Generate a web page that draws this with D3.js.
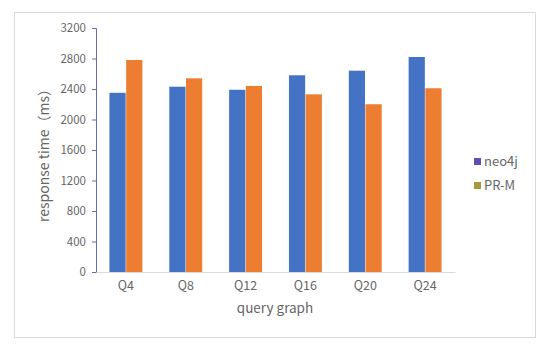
<!DOCTYPE html>
<html>
<head>
<meta charset="utf-8">
<script src="https://cdn.jsdelivr.net/npm/d3@7"></script>
<style>
  body { margin: 0; background: #fff; }
  svg text { font-family: "Noto Sans CJK SC", "DejaVu Sans", sans-serif; fill: #666; }
</style>
</head>
<body>
<svg id="chart" width="550" height="350"></svg>
<script>
const categories = ['Q4', 'Q8', 'Q12', 'Q16', 'Q20', 'Q24'];
const seriesNames = ['neo4j', 'PR-M'];
const neo4jValues = [2350, 2430, 2390, 2580, 2640, 2820];
const prmValues = [2780, 2540, 2440, 2330, 2200, 2410];
const yTicks = [0, 400, 800, 1200, 1600, 2000, 2400, 2800, 3200];

const colors = ['#4472C4', '#ED7D31'];
const legendColors = ['#5a4fb5', '#a69a3a'];

const svg = d3.select('#chart');
const margin = {top: 28, left: 96, right: 95, bottom: 78};
const width = 550 - margin.left - margin.right,
  height = 350 - margin.top - margin.bottom;

// frame
svg.append('rect')
  .attr('x', 14.5).attr('y', 12.5)
  .attr('width', 521).attr('height', 325)
  .attr('fill', 'none').attr('stroke', '#d9d9d9');

const g = svg.append('g')
  .attr('transform', 'translate(' + margin.left + ',' + margin.top + ')');

const x = d3.scaleBand().domain(categories).range([0, width]);
const x1 = d3.scaleBand().domain(seriesNames).range([0, x.bandwidth() * 0.55])
  .paddingInner(0.03);
const y = d3.scaleLinear().domain([0, 3200]).range([height, 0]);

const rows = categories.map((c, i) => ({cat: c, vals: [neo4jValues[i], prmValues[i]]}));

g.selectAll('.grp')
  .data(rows)
  .enter().append('g')
    .attr('class', 'grp')
    .attr('transform', d => 'translate(' + (x(d.cat) + x.bandwidth() * 0.225) + ',0)')
  .selectAll('rect')
  .data(d => d.vals.map((v, j) => ({name: seriesNames[j], value: v, j: j})))
  .enter().append('rect')
    .attr('x', d => x1(d.name))
    .attr('y', d => y(d.value))
    .attr('width', x1.bandwidth())
    .attr('height', d => height - y(d.value))
    .attr('fill', d => colors[d.j]);

// y axis
const yAxis = g.append('g')
  .call(d3.axisLeft(y).tickValues(yTicks).tickSize(4).tickFormat(d3.format('d')));
yAxis.select('.domain').attr('stroke', '#6b6aa8');
yAxis.selectAll('.tick line').attr('stroke', '#6b6aa8');
yAxis.selectAll('.tick text').attr('x', -10).style('font-size', '11.5px').attr('fill', '#666');

// x axis
const xAxis = g.append('g')
  .attr('transform', 'translate(0,' + height + ')')
  .call(d3.axisBottom(x).tickSize(0));
xAxis.select('.domain').attr('stroke', '#d9d9d9');
xAxis.selectAll('.tick text').attr('dy', '1.2em').style('font-size', '12.5px').attr('fill', '#666');

// axis titles
svg.append('text')
  .attr('x', 275).attr('y', 313)
  .attr('text-anchor', 'middle')
  .style('font-size', '13.5px')
  .text('query graph');

svg.append('text')
  .attr('transform', 'translate(49,152) rotate(-90)')
  .attr('text-anchor', 'middle')
  .style('font-size', '14px')
  .text('response time（ms）');

// legend
const legend = svg.append('g').attr('transform', 'translate(474,162)');
seriesNames.forEach((s, i) => {
  const row = legend.append('g').attr('transform', 'translate(0,' + (i * 24) + ')');
  row.append('rect').attr('x', 0).attr('y', -4).attr('width', 7).attr('height', 7)
    .attr('fill', legendColors[i]);
  row.append('text').attr('x', 10).attr('y', 4)
    .style('font-size', '13px').text(s);
});
</script>
</body>
</html>
